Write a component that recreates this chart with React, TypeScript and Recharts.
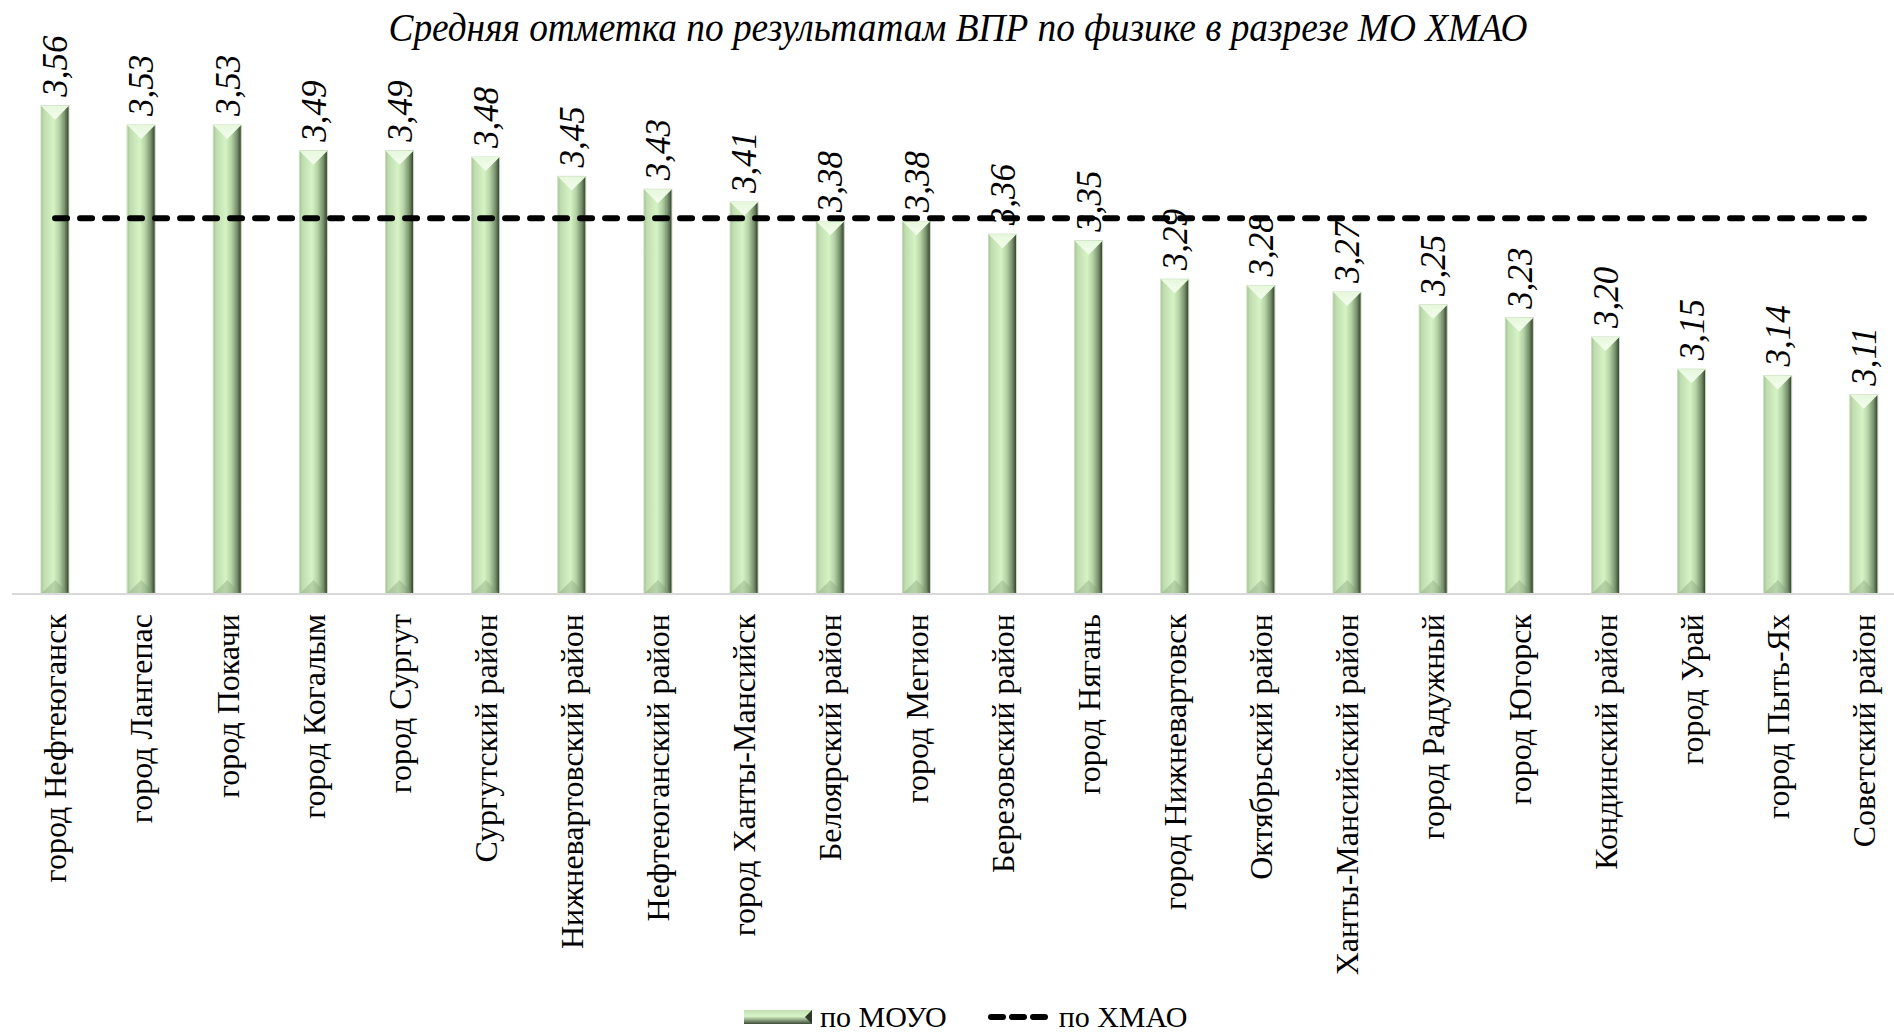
import { BarChart, Bar, XAxis, YAxis, Line, LabelList } from 'recharts';

const districts = [
    'город Нефтеюганск', 'город Лангепас', 'город Покачи', 'город Когалым', 'город Сургут',
    'Сургутский район', 'Нижневартовский район', 'Нефтеюганский район', 'город Ханты-Мансийск',
    'Белоярский район', 'город Мегион', 'Березовский район', 'город Нягань', 'город Нижневартовск',
    'Октябрьский район', 'Ханты-Мансийский район', 'город Радужный', 'город Югорск',
    'Кондинский район', 'город Урай', 'город Пыть-Ях', 'Советский район',
];
const moyoScores = [
    3.56, 3.53, 3.53, 3.49, 3.49, 3.48, 3.45, 3.43, 3.41, 3.38, 3.38,
    3.36, 3.35, 3.29, 3.28, 3.27, 3.25, 3.23, 3.20, 3.15, 3.14, 3.11,
];
const hmaoScore = 3.385;

const data = districts.map((name, i) => ({ name, moyo: moyoScores[i], hmao: hmaoScore }));

const serif = '"Times New Roman", "Liberation Serif", serif';
const fmt = (v: number) => v.toFixed(2).replace('.', ',');

function BevelBar(props: any) {
    const { x, y, width, height } = props;
    if (!height || height <= 0) return null;
    const cap = width / 2;
    return (
        <g>
            <rect x={x} y={y} width={width} height={height} fill="url(#barGrad)" stroke="#c9dcbd" strokeWidth={1} />
            <polygon points={`${x},${y} ${x + width},${y} ${x + width / 2},${y + cap}`} fill="url(#capGrad)" />
            <polygon
                points={`${x},${y + height} ${x + width},${y + height} ${x + width / 2},${y + height - cap}`}
                fill="#7f9a72"
                opacity={0.35}
            />
        </g>
    );
}

function ValueLabel(props: any) {
    const { x, y, width, value } = props;
    const cx = x + width / 2;
    return (
        <text
            transform={`translate(${cx},${y - 9}) rotate(-90)`}
            dy="0.35em"
            textAnchor="start"
            fontFamily={serif}
            fontStyle="italic"
            fontSize={35}
            fill="#000"
        >
            {fmt(value)}
        </text>
    );
}

function CategoryTick(props: any) {
    const { x, y, payload } = props;
    return (
        <text
            transform={`translate(${x},${y + 12}) rotate(-90)`}
            dy="0.35em"
            textAnchor="end"
            fontFamily={serif}
            fontSize={32}
            fill="#000"
        >
            {payload.value}
        </text>
    );
}

export default function App() {
    return (
        <div style={{ position: 'absolute', left: 0, top: 0, width: 1894, height: 1034, overflow: 'hidden', background: '#fff' }}>
            <svg width={1894} height={60} style={{ position: 'absolute', left: 0, top: 0 }}>
                <text
                    x={958}
                    y={41}
                    textAnchor="middle"
                    fontFamily={serif}
                    fontStyle="italic"
                    fontSize={41}
                    textLength={1139}
                    lengthAdjust="spacingAndGlyphs"
                    fill="#000"
                >
                    Средняя отметка по результатам ВПР по физике в разрезе МО ХМАО
                </text>
            </svg>
            <div style={{ position: 'absolute', left: 0, top: 0 }}>
                <BarChart width={1920} height={1034} data={data} margin={{ top: 80, right: 13, left: 12, bottom: 0 }}>
                    <defs>
                        <linearGradient id="barGrad" x1="0" y1="0" x2="1" y2="0">
                            <stop offset="0%" stopColor="#a3c095" />
                            <stop offset="10%" stopColor="#bedcae" />
                            <stop offset="45%" stopColor="#d6f3c6" />
                            <stop offset="65%" stopColor="#b5d2a5" />
                            <stop offset="85%" stopColor="#76906b" />
                            <stop offset="100%" stopColor="#2e392a" />
                        </linearGradient>
                        <linearGradient id="capGrad" x1="0" y1="0" x2="0" y2="1">
                            <stop offset="0%" stopColor="#e6f8dc" />
                            <stop offset="100%" stopColor="#f4fdee" />
                        </linearGradient>
                    </defs>
                    <XAxis
                        dataKey="name"
                        interval={0}
                        tickLine={false}
                        axisLine={{ stroke: '#d9d9d9', strokeWidth: 2 }}
                        tick={<CategoryTick />}
                        height={440}
                    />
                    <YAxis hide domain={[2.8, 3.6]} />
                    <Bar dataKey="moyo" barSize={28} shape={<BevelBar />} isAnimationActive={false}>
                        <LabelList dataKey="moyo" content={<ValueLabel />} />
                    </Bar>
                    <Line
                        dataKey="hmao"
                        stroke="#000"
                        strokeWidth={6}
                        strokeDasharray="12 13"
                        strokeLinecap="round"
                        dot={false}
                        activeDot={false}
                        isAnimationActive={false}
                    />
                </BarChart>
            </div>
            <div
                style={{
                    position: 'absolute',
                    left: 744,
                    top: 999,
                    display: 'flex',
                    alignItems: 'center',
                    fontFamily: serif,
                    fontSize: 30,
                    color: '#000',
                    lineHeight: '36px',
                }}
            >
                <svg width={70} height={16} style={{ marginRight: 6 }}>
                    <defs>
                        <linearGradient id="legGrad" x1="0" y1="0" x2="0" y2="1">
                            <stop offset="0%" stopColor="#c2dfb2" />
                            <stop offset="45%" stopColor="#d8f5c9" />
                            <stop offset="100%" stopColor="#3c4a36" />
                        </linearGradient>
                    </defs>
                    <rect x={0} y={1} width={68} height={14} fill="url(#legGrad)" />
                    <polygon points="68,1 68,15 61,8" fill="#2f3a2a" />
                </svg>
                <span>по МОУО</span>
                <svg width={62} height={16} style={{ marginLeft: 40, marginRight: 10 }}>
                    <line x1={4} y1={8} x2={58} y2={8} stroke="#000" strokeWidth={6} strokeDasharray="12 9" strokeLinecap="round" />
                </svg>
                <span>по ХМАО</span>
            </div>
        </div>
    );
}
